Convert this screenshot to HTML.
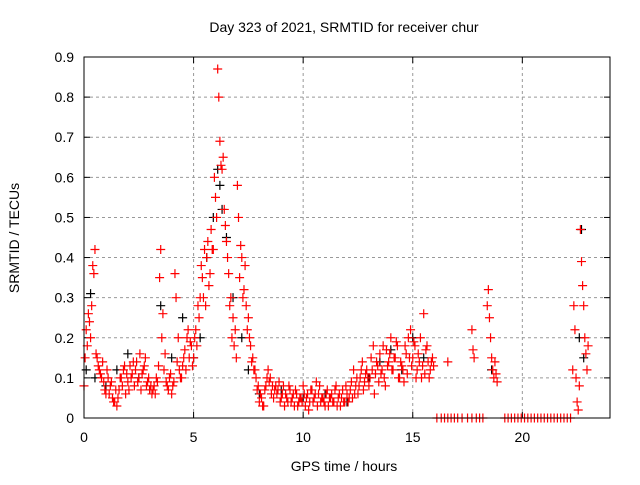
<!DOCTYPE html>
<html><head><meta charset="utf-8"><style>
body{margin:0;background:#fff;font-family:"Liberation Sans",sans-serif}
svg text{font-family:"Liberation Sans",sans-serif;font-size:14px;fill:#000}
</style></head><body>
<svg id="c" width="640" height="480" xmlns="http://www.w3.org/2000/svg">
<rect width="640" height="480" fill="#fff"/>
<text x="344" y="32" text-anchor="middle">Day 323 of 2021, SRMTID for receiver chur</text>
<text x="344" y="471" text-anchor="middle">GPS time / hours</text>
<text transform="translate(19,238) rotate(-90)" text-anchor="middle">SRMTID / TECUs</text>
<g id="grid"></g>
<g id="ticks"></g>
<g id="black"></g>
<g id="red"></g>
<rect x="84" y="57" width="526" height="361" fill="none" stroke="#000" stroke-width="1"/>
</svg>
<script>
const xTicks=[0,5,10,15,20];
const yTicks=[0,0.1,0.2,0.3,0.4,0.5,0.6,0.7,0.8,0.9];
const yTickLabels=["0","0.1","0.2","0.3","0.4","0.5","0.6","0.7","0.8","0.9"];
// regularly sampled segments: start hour, sampling step (hours)
const segStart=[0.0,0.05,3.0,3.05,5.0,5.05,8.0,8.05,13.0,13.05,22.3];
const segStep=[0.1,0.1,0.1,0.1,0.1,0.1,0.1,0.1,0.1,0.1,0.05];
const seg0=[0.08,0.22,0.26,0.2,0.38,0.42,0.15,0.12,0.1,0.09,0.06,0.1,0.08,0.05,0.04,0.03,0.07,0.1,0.12,0.06,0.09,0.13,0.11,0.08,0.14,0.1,0.07,0.12,0.15,0.09];
const seg1=[0.15,0.18,0.24,0.28,0.36,0.16,0.13,0.11,0.14,0.07,0.12,0.06,0.09,0.04,0.07,0.05,0.1,0.08,0.13,0.11,0.07,0.1,0.14,0.12,0.09,0.16,0.11,0.13,0.08,0.1];
const seg2=[0.07,0.06,0.08,0.1,0.13,0.42,0.26,0.16,0.08,0.1,0.06,0.09,0.3,0.2,0.1,0.13,0.17,0.2,0.15,0.18];
const seg3=[0.08,0.07,0.06,0.09,0.35,0.2,0.12,0.09,0.07,0.11,0.08,0.36,0.14,0.12,0.1,0.15,0.12,0.22,0.19,0.13];
const seg4=[0.15,0.22,0.28,0.3,0.35,0.42,0.4,0.33,0.47,0.42,0.55,0.87,0.69,0.62,0.52,0.44,0.36,0.3,0.25,0.22,0.58,0.35,0.4,0.32,0.28,0.25,0.18,0.15,0.12,0.07];
const seg5=[0.2,0.18,0.25,0.38,0.3,0.28,0.44,0.36,0.42,0.6,0.5,0.8,0.63,0.65,0.48,0.4,0.28,0.2,0.18,0.15,0.5,0.43,0.3,0.38,0.22,0.2,0.14,0.12,0.1,0.08];
const seg6=[0.04,0.05,0.03,0.08,0.12,0.1,0.08,0.07,0.06,0.09,0.05,0.08,0.06,0.04,0.07,0.05,0.03,0.06,0.04,0.05,0.08,0.03,0.06,0.04,0.07,0.05,0.09,0.06,0.04,0.05,0.03,0.07,0.05,0.06,0.04,0.08,0.05,0.03,0.07,0.04,0.06,0.05,0.09,0.12,0.08,0.06,0.1,0.14,0.09,0.12];
const seg7=[0.06,0.03,0.07,0.1,0.09,0.06,0.05,0.08,0.07,0.04,0.06,0.03,0.05,0.08,0.04,0.06,0.07,0.03,0.05,0.04,0.06,0.05,0.02,0.07,0.04,0.06,0.03,0.08,0.05,0.04,0.06,0.03,0.05,0.04,0.07,0.03,0.06,0.05,0.04,0.08,0.04,0.07,0.05,0.06,0.1,0.08,0.12,0.07,0.11,0.1];
const seg8=[0.08,0.15,0.18,0.11,0.13,0.16,0.12,0.1,0.17,0.14,0.2,0.12,0.15,0.18,0.1,0.13,0.09,0.16,0.2,0.22,0.15,0.18,0.12,0.14,0.1,0.26,0.17,0.14,0.12,0.15];
const seg9=[0.1,0.12,0.06,0.14,0.09,0.11,0.18,0.08,0.13,0.16,0.12,0.15,0.19,0.1,0.14,0.12,0.18,0.11,0.15,0.13,0.19,0.1,0.16,0.2,0.13,0.11,0.18,0.1,0.14,0.13];
const seg10=[0.12,0.28,0.22,0.1,0.04,0.02,0.08,0.47,0.39,0.33,0.28,0.2,0.16,0.12,0.18];
const redSegs=[seg0,seg1,seg2,seg3,seg4,seg5,seg6,seg7,seg8,seg9,seg10];
const extraT=[16.6,17.7,17.75,17.8,18.4,18.45,18.5,18.55,18.6,18.65,18.7,18.75,18.8,18.85];
const extraV=[0.14,0.22,0.17,0.15,0.28,0.32,0.25,0.2,0.15,0.12,0.1,0.14,0.11,0.09];
const zeroT=[16.1,16.3,16.45,16.6,16.75,16.9,17.05,17.25,17.5,17.7,17.9,18.05,18.2,19.2,19.35,19.5,19.65,19.8,19.95,20.1,20.25,20.4,20.55,20.7,20.85,21.0,21.15,21.3,21.45,21.6,21.75,21.9,22.05,22.2];
const blackT=[0.1,0.3,0.5,1.0,1.5,2.0,2.5,3.0,3.5,4.0,4.5,5.0,5.3,5.6,5.9,6.1,6.2,6.3,6.5,6.8,7.2,7.5,8.0,9.0,10.0,11.0,12.0,13.0,13.5,14.0,14.5,15.0,15.5,18.6,22.6,22.7,22.8];
const blackV=[0.12,0.31,0.1,0.08,0.12,0.16,0.1,0.07,0.28,0.15,0.25,0.15,0.2,0.4,0.5,0.62,0.58,0.52,0.45,0.3,0.2,0.12,0.06,0.07,0.05,0.06,0.04,0.1,0.14,0.17,0.12,0.2,0.15,0.12,0.2,0.47,0.15];
const X0=84,X1=610,Y0=418,Y1=57,XMAX=24,YMAX=0.9;
const sx=v=>X0+v/XMAX*(X1-X0), sy=v=>Y0-v/YMAX*(Y0-Y1);
const NS="http://www.w3.org/2000/svg";
function mk(t,a,p){const e=document.createElementNS(NS,t);for(const k in a)e.setAttribute(k,a[k]);p.appendChild(e);return e;}
const grid=document.getElementById('grid'),ticks=document.getElementById('ticks');
xTicks.forEach(v=>{const x=sx(v);
 if(v>0){const l=mk('line',{x1:x,y1:Y0,x2:x,y2:Y1,stroke:'#999','stroke-dasharray':'3,3'},grid);}
 mk('line',{x1:x,y1:Y0,x2:x,y2:Y0-6,stroke:'#000'},ticks);mk('line',{x1:x,y1:Y1,x2:x,y2:Y1+6,stroke:'#000'},ticks);
 const t=mk('text',{x:x,y:Y0+24,'text-anchor':'middle'},ticks);t.textContent=v;
 });
yTicks.forEach((v,i)=>{const y=sy(v);
 if(v>0&&v<0.9){const l=mk('line',{x1:X0,y1:y,x2:X1,y2:y,stroke:'#999','stroke-dasharray':'3,3'},grid);}
 mk('line',{x1:X0,y1:y,x2:X0+6,y2:y,stroke:'#000'},ticks);mk('line',{x1:X1,y1:y,x2:X1-6,y2:y,stroke:'#000'},ticks);
 const t=mk('text',{x:X0-10,y:y+5,'text-anchor':'end'},ticks);t.textContent=yTickLabels[i];
 });
function pts(T,V){let d='';T.forEach((t,i)=>{const x=sx(t),y=sy(V[i]);d+=`M${x-4.5},${y}h9M${x},${y-4.5}v9`;});return d;}
function plot(d,g,col,name){const p=mk('path',{d:d,stroke:col,'stroke-width':1.2,fill:'none'},g);
 
 }
plot(pts(blackT,blackV),document.getElementById('black'),'#000','black-points');
let rd='';
redSegs.forEach((vals,s)=>{const T=vals.map((_,i)=>segStart[s]+i*segStep[s]);rd+=pts(T,vals);});
rd+=pts(extraT,extraV);
rd+=pts(zeroT,zeroT.map(()=>0));
plot(rd,document.getElementById('red'),'#f00','red-points');
</script>
</body></html>
